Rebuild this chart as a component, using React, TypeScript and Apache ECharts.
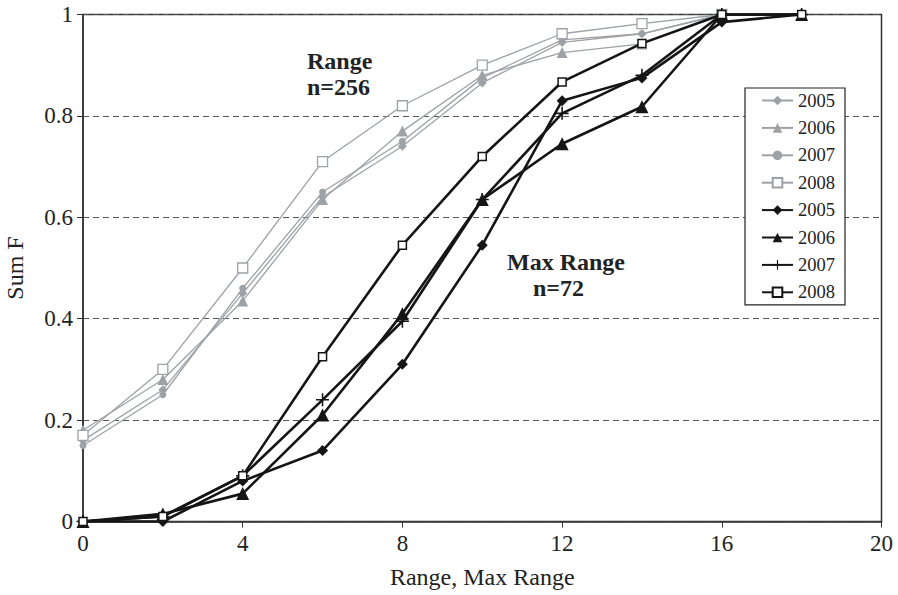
import React, { useEffect, useRef } from "react";
import * as echarts from "echarts";

const xRange = [0, 2, 4, 6, 8, 10, 12, 14, 16];
const xMax = [0, 2, 4, 6, 8, 10, 12, 14, 16, 18];

const range2005 = [0.16, 0.26, 0.45, 0.64, 0.74, 0.865, 0.945, 0.962, 1];
const range2006 = [0.18, 0.28, 0.435, 0.635, 0.77, 0.88, 0.925, 0.942, 1];
const range2007 = [0.15, 0.25, 0.46, 0.65, 0.75, 0.875, 0.95, 0.962, 1];
const range2008 = [0.17, 0.30, 0.50, 0.71, 0.82, 0.90, 0.962, 0.982, 1];

const max2005 = [0, 0, 0.08, 0.14, 0.31, 0.545, 0.83, 0.875, 0.985, 1];
const max2006 = [0, 0.015, 0.055, 0.21, 0.41, 0.635, 0.745, 0.818, 1, 1];
const max2007 = [0, 0.01, 0.09, 0.24, 0.395, 0.635, 0.805, 0.88, 1, 1];
const max2008 = [0, 0.01, 0.09, 0.325, 0.545, 0.72, 0.867, 0.943, 1, 1];

const yTicks = ["0", "0.2", "0.4", "0.6", "0.8", "1"];

const GREY = "#9da2a7";
const BLACK = "#151515";
const FONT = "Liberation Serif";

const PLUS = "path://M4.4,0h1.2v10h-1.2z M0,4.4h10v1.2h-10z";

function pairs(xs: number[], ys: number[]) {
  return xs.map((x, i) => [x, ys[i]]);
}

export default function App() {
  const ref = useRef<HTMLDivElement>(null);
  useEffect(() => {
    if (!ref.current) return;
    const chart = echarts.init(ref.current, undefined, { renderer: "svg" });
    const grey = (name: string, ys: number[], symbol: string, size: number, hollow = false) => ({
      type: "line",
      name,
      data: pairs(xRange, ys),
      symbol,
      symbolSize: size,
      lineStyle: { color: GREY, width: 1.3 },
      itemStyle: hollow
        ? { color: "#fff", borderColor: GREY, borderWidth: 1.3 }
        : { color: GREY, borderWidth: 0 },
      z: 2,
    });
    const black = (name: string, ys: number[], symbol: string, size: number, hollow = false) => ({
      type: "line",
      name,
      data: pairs(xMax, ys),
      symbol,
      symbolSize: size,
      lineStyle: { color: BLACK, width: 2.6 },
      itemStyle: hollow
        ? { color: "#fff", borderColor: BLACK, borderWidth: 1.5 }
        : { color: BLACK, borderWidth: 0 },
      z: 3,
    });
    chart.setOption({
      animation: false,
      backgroundColor: "#fff",
      textStyle: { fontFamily: FONT },
      grid: {
        left: 83,
        right: 16.5,
        top: 14.5,
        bottom: 73.5,
        containLabel: false,
        outerBoundsMode: "none",
        show: true,
        borderColor: "#333",
        borderWidth: 1.5,
        backgroundColor: "transparent",
      },
      legend: {
        orient: "vertical",
        left: 745,
        top: 88,
        width: 98,
        padding: [3, 10, 3, 16],
        itemWidth: 31,
        itemHeight: 12,
        itemGap: 8.4,
        borderColor: "#222",
        borderWidth: 1.2,
        backgroundColor: "#fff",
        textStyle: { fontFamily: FONT, fontSize: 18.5, color: "#222", lineHeight: 18 },
        formatter: (n: string) => n.trim(),
        data: ["2005", "2006", "2007", "2008", "2005 ", "2006 ", "2007 ", "2008 "],
      },
      xAxis: {
        type: "value",
        min: 0,
        max: 20,
        interval: 4,
        name: "Range, Max Range",
        nameLocation: "middle",
        nameGap: 43,
        nameTextStyle: { fontFamily: FONT, fontSize: 24, color: "#222" },
        axisLine: { lineStyle: { color: "#333", width: 1.5 } },
        axisTick: { show: true, length: 6, lineStyle: { color: "#333" } },
        axisLabel: { fontFamily: FONT, fontSize: 23, color: "#222", margin: 10 },
        splitLine: { show: false },
      },
      yAxis: {
        type: "value",
        min: 0,
        max: 1,
        interval: 0.2,
        name: "Sum F",
        nameLocation: "middle",
        nameGap: 56,
        nameTextStyle: { fontFamily: FONT, fontSize: 24, color: "#222" },
        axisLine: { show: true, lineStyle: { color: "#333", width: 1.5 } },
        axisTick: { show: true, length: 6, lineStyle: { color: "#333" } },
        axisLabel: {
          fontFamily: FONT,
          fontSize: 23,
          color: "#222",
          margin: 10,
          formatter: (v: number) => yTicks[Math.round(v / 0.2)] ?? String(v),
        },
        splitLine: { show: true, lineStyle: { color: "#555", type: [6, 4], width: 1 } },
      },
      graphic: [
        {
          type: "text",
          left: 307,
          top: 49,
          style: { text: "Range", font: `bold 24px "${FONT}"`, fill: "#222" },
        },
        {
          type: "text",
          left: 307,
          top: 75,
          style: { text: "n=256", font: `bold 24px "${FONT}"`, fill: "#222" },
        },
        {
          type: "text",
          left: 507,
          top: 250,
          style: { text: "Max Range", font: `bold 24px "${FONT}"`, fill: "#222" },
        },
        {
          type: "text",
          left: 533,
          top: 276,
          style: { text: "n=72", font: `bold 24px "${FONT}"`, fill: "#222" },
        },
      ],
      series: [
        grey("2005", range2005, "diamond", 9),
        grey("2006", range2006, "triangle", 11),
        grey("2007", range2007, "circle", 7),
        grey("2008", range2008, "rect", 10, true),
        black("2005 ", max2005, "diamond", 11),
        black("2006 ", max2006, "triangle", 13),
        black("2007 ", max2007, PLUS, 13),
        black("2008 ", max2008, "rect", 8, true),
      ],
    });
    return () => chart.dispose();
  }, []);
  return (
    <div
      ref={ref}
      style={{ position: "absolute", left: 0, top: 0, width: 898, height: 595 }}
    />
  );
}
